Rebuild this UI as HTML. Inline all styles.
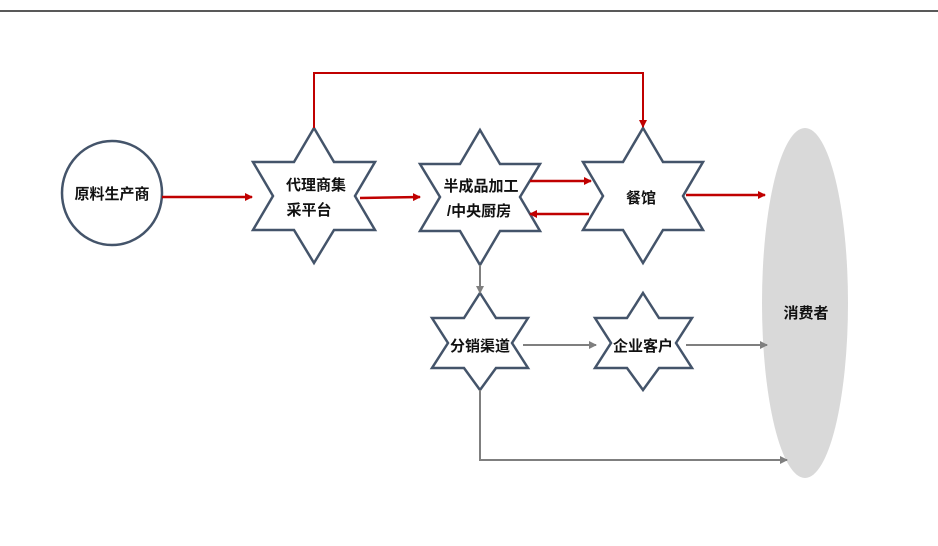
<!DOCTYPE html>
<html><head><meta charset="utf-8"><style>
html,body{margin:0;padding:0;background:#fff;}
svg{display:block;}
text{font-family:"Liberation Sans","Noto Sans CJK SC",sans-serif;font-weight:bold;font-size:15px;fill:#111;text-anchor:middle;}
</style></head><body>
<svg width="938" height="546" viewBox="0 0 938 546">
<defs>
<marker id="ar" markerWidth="8" markerHeight="8" refX="7" refY="4" orient="auto" markerUnits="userSpaceOnUse"><path d="M0,0 L8,4 L0,8 Z" fill="#c00000"/></marker>
<marker id="ag" markerWidth="8" markerHeight="8" refX="7" refY="4" orient="auto" markerUnits="userSpaceOnUse"><path d="M0,0 L8,4 L0,8 Z" fill="#7f7f7f"/></marker>
</defs>
<line x1="0" y1="11" x2="938" y2="11" stroke="#222" stroke-width="1.5"/>
<ellipse cx="805" cy="303" rx="43" ry="175" fill="#d9d9d9"/>
<ellipse cx="112" cy="193" rx="50" ry="52" fill="#fff" stroke="#44546a" stroke-width="2.5"/>
<g fill="#fff" stroke="#44546a" stroke-width="2.5" stroke-linejoin="miter">
<path d="M314,128 L334,162 L375,162 L355,196 L375,230 L334,230 L314,263 L294,230 L253,230 L273,196 L253,162 L294,162 Z"/>
<path d="M480,130 L500,164 L540,164 L520,197 L540,231 L500,231 L480,265 L460,231 L420,231 L440,197 L420,164 L460,164 Z"/>
<path d="M643,128 L663,162 L703,162 L683,196 L703,230 L663,230 L643,263 L623,230 L583,230 L603,196 L583,162 L623,162 Z"/>
<path d="M480,293 L496,318 L528,318 L512,343 L528,368 L496,368 L480,390 L464,368 L432,368 L448,343 L432,318 L464,318 Z"/>
<path d="M643,293 L659,318 L692,318 L676,343 L692,368 L659,368 L643,390 L627,368 L595,368 L611,343 L595,318 L627,318 Z"/>
</g>
<g stroke="#c00000" stroke-width="2.5" fill="none">
<line x1="162" y1="197" x2="252" y2="197" marker-end="url(#ar)"/>
<line x1="360" y1="198" x2="420" y2="197" marker-end="url(#ar)"/>
<polyline points="314,128 314,73 643,73 643,127" stroke-width="2" marker-end="url(#ar)"/>
<line x1="530" y1="181" x2="591" y2="181" marker-end="url(#ar)"/>
<line x1="589" y1="214" x2="530" y2="214" marker-end="url(#ar)"/>
<line x1="686" y1="195" x2="765" y2="195" marker-end="url(#ar)"/>
</g>
<g stroke="#7f7f7f" stroke-width="2" fill="none">
<line x1="480" y1="265" x2="480" y2="293" marker-end="url(#ag)"/>
<line x1="523" y1="345" x2="596" y2="345" marker-end="url(#ag)"/>
<line x1="686" y1="345" x2="767" y2="345" marker-end="url(#ag)"/>
<polyline points="480,390 480,460 787,460" marker-end="url(#ag)"/>
</g>
<text x="112" y="199">原料生产商</text>
<text x="316" y="190">代理商集</text>
<text x="309" y="215">采平台</text>
<text x="481" y="191">半成品加工</text>
<text x="479" y="216">/中央厨房</text>
<text x="641" y="203">餐馆</text>
<text x="480" y="351">分销渠道</text>
<text x="643" y="351">企业客户</text>
<text x="806" y="318">消费者</text>
</svg>
</body></html>
